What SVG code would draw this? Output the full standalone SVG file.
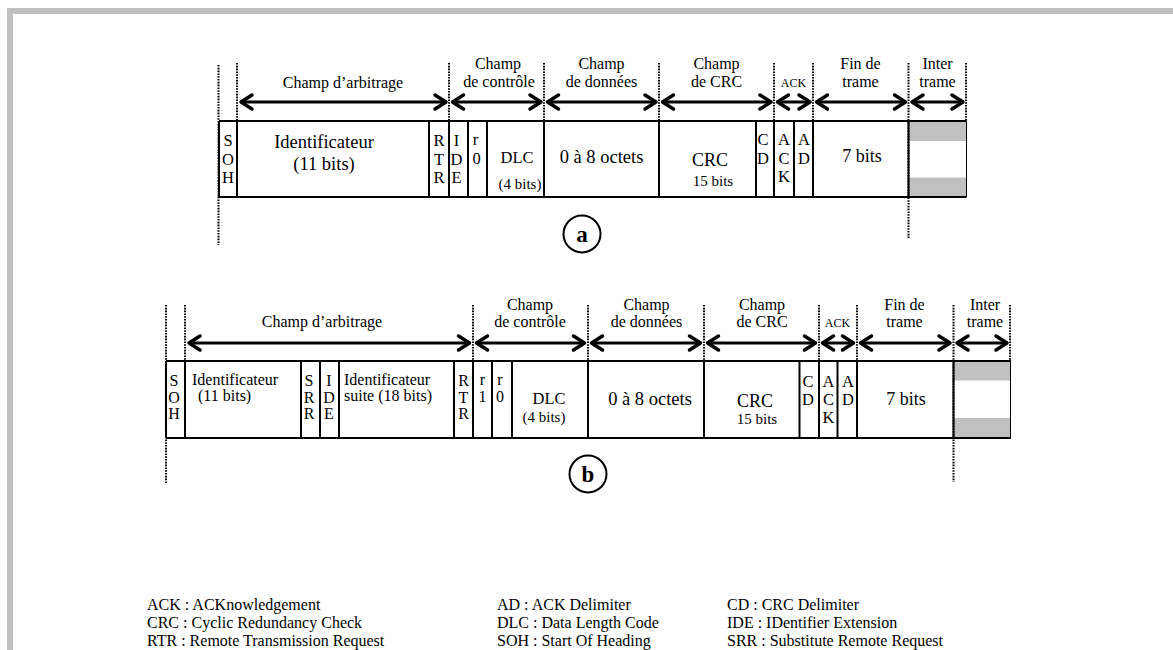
<svg xmlns="http://www.w3.org/2000/svg" width="1173" height="650" viewBox="0 0 1173 650">
<style>
text{font-family:"Liberation Serif","Times New Roman",serif;fill:#000}
.c{text-anchor:middle}
.lb{font-size:16px;text-anchor:middle}
.big{font-size:18.5px;text-anchor:middle}
.md{font-size:16px}
.sm{font-size:15px;text-anchor:middle}
.ack{font-size:12px;text-anchor:middle}
.lt{font-size:16.5px;text-anchor:middle}
.lg{font-size:16px}
.box{fill:none;stroke:#000;stroke-width:2}
.div{stroke:#000;stroke-width:2}
.thin{stroke:#000;stroke-width:1}
.dot{stroke:#000;stroke-width:2;stroke-dasharray:1.6 1.2;fill:none}
.arr{stroke:#000;stroke-width:3;fill:none;marker-start:url(#ah);marker-end:url(#ah)}
.gray{fill:#c0c0c0}
.circ{fill:none;stroke:#000;stroke-width:2}
.tag{font-size:23px;font-weight:bold;text-anchor:middle}
</style>
<defs>
<marker id="ah" viewBox="-14 -10 19 20" refX="0" refY="0" markerWidth="19" markerHeight="20" markerUnits="userSpaceOnUse" orient="auto-start-reverse">
<path d="M-11,-7 L0,0 L-11,7" fill="none" stroke="#000" stroke-width="3.5" stroke-linecap="round" stroke-linejoin="round"/>
</marker>
</defs>
<rect width="1173" height="650" fill="#fff"/>
<g id="border">
<rect x="7" y="8" width="1166" height="6" class="gray"/>
<rect x="7" y="8" width="6" height="642" class="gray"/>
</g>

<!-- ===== Frame a ===== -->
<g id="frame-a">
<rect x="909" y="121" width="57.5" height="20" class="gray"/>
<rect x="909" y="177.5" width="57.5" height="19.5" class="gray"/>
<line x1="219" y1="121" x2="966.5" y2="121" class="div"/>
<line x1="219" y1="197" x2="966.5" y2="197" class="div"/>
<line x1="219" y1="121" x2="219" y2="197" class="div"/>
<line x1="966.5" y1="121" x2="966.5" y2="197" class="thin"/>
<g id="a-dividers">
<line x1="237" y1="121" x2="237" y2="197" class="div"/>
<line x1="429" y1="121" x2="429" y2="197" class="div"/>
<line x1="449" y1="121" x2="449" y2="197" class="div"/>
<line x1="468" y1="121" x2="468" y2="197" class="div"/>
<line x1="487" y1="121" x2="487" y2="197" class="div"/>
<line x1="544" y1="121" x2="544" y2="197" class="div"/>
<line x1="659" y1="121" x2="659" y2="197" class="div"/>
<line x1="756" y1="121" x2="756" y2="197" class="div"/>
<line x1="774" y1="121" x2="774" y2="197" class="div"/>
<line x1="794" y1="121" x2="794" y2="197" class="div"/>
<line x1="813" y1="121" x2="813" y2="197" class="div"/>
<line x1="908.5" y1="121" x2="908.5" y2="197" class="div"/>
</g>
<g id="a-SOH"><text class="lt"><tspan x="228" y="146">S</tspan><tspan x="228" y="164.5">O</tspan><tspan x="228" y="183">H</tspan></text></g>
<g id="a-ident"><text class="big" x="324" y="148">Identificateur</text><text class="big" x="324" y="170">(11 bits)</text></g>
<g id="a-RTR"><text class="lt"><tspan x="439" y="146">R</tspan><tspan x="439" y="164.5">T</tspan><tspan x="439" y="183">R</tspan></text></g>
<g id="a-IDE"><text class="lt"><tspan x="456.5" y="146">I</tspan><tspan x="456.5" y="164.5">D</tspan><tspan x="456.5" y="183">E</tspan></text></g>
<g id="a-r0"><text class="lt"><tspan x="475.5" y="145">r</tspan><tspan x="476.5" y="164">0</tspan></text></g>
<g id="a-DLC"><text class="lt" x="517" y="163">DLC</text><text class="sm" x="520" y="189">(4 bits)</text></g>
<g id="a-data"><text class="big" x="601.5" y="163">0 à 8 octets</text></g>
<g id="a-CRC"><text class="big" x="710" y="166" style="font-size:18px">CRC</text><text class="sm" x="713" y="186">15 bits</text></g>
<g id="a-CD"><text class="lt"><tspan x="763" y="145">C</tspan><tspan x="763" y="163.5">D</tspan></text></g>
<g id="a-ACK"><text class="lt"><tspan x="784" y="145">A</tspan><tspan x="784" y="163.5">C</tspan><tspan x="784" y="182">K</tspan></text></g>
<g id="a-AD"><text class="lt"><tspan x="804" y="145">A</tspan><tspan x="804" y="163.5">D</tspan></text></g>
<g id="a-eof"><text class="big" x="862" y="162" style="font-size:18px">7 bits</text></g>
<g id="a-labels">
<text class="lb" x="343" y="88">Champ d’arbitrage</text>
<text class="lb" x="498" y="69">Champ</text><text class="lb" x="499" y="87">de contrôle</text>
<text class="lb" x="601.5" y="69">Champ</text><text class="lb" x="601.5" y="87">de données</text>
<text class="lb" x="716.5" y="69">Champ</text><text class="lb" x="716.5" y="87">de CRC</text>
<text class="ack" x="793.5" y="87">ACK</text>
<text class="lb" x="860.5" y="69">Fin de</text><text class="lb" x="860.5" y="87">trame</text>
<text class="lb" x="937.5" y="69">Inter</text><text class="lb" x="937.5" y="87">trame</text>
</g>
<g id="a-tag"><circle cx="582" cy="234" r="18.5" class="circ"/><text class="tag" x="582" y="241.5">a</text></g>
</g>

<!-- ===== Frame b ===== -->
<g id="frame-b">
<rect x="954" y="361" width="57" height="19.5" class="gray"/>
<rect x="954" y="418" width="57" height="20" class="gray"/>
<line x1="166" y1="361" x2="1011" y2="361" class="div"/>
<line x1="166" y1="438" x2="1011" y2="438" class="div"/>
<line x1="166" y1="361" x2="166" y2="438" class="div"/>
<line x1="1010.5" y1="361" x2="1010.5" y2="438" class="thin"/>
<g id="b-dividers">
<line x1="185" y1="361" x2="185" y2="438" class="div"/>
<line x1="301" y1="361" x2="301" y2="438" class="div"/>
<line x1="320" y1="361" x2="320" y2="438" class="div"/>
<line x1="339" y1="361" x2="339" y2="438" class="div"/>
<line x1="454" y1="361" x2="454" y2="438" class="div"/>
<line x1="473" y1="361" x2="473" y2="438" class="div"/>
<line x1="492" y1="361" x2="492" y2="438" class="div"/>
<line x1="512" y1="361" x2="512" y2="438" class="div"/>
<line x1="588" y1="361" x2="588" y2="438" class="div"/>
<line x1="704" y1="361" x2="704" y2="438" class="div"/>
<line x1="799.5" y1="361" x2="799.5" y2="438" class="div"/>
<line x1="819" y1="361" x2="819" y2="438" class="div"/>
<line x1="837.5" y1="361" x2="837.5" y2="438" class="div"/>
<line x1="857" y1="361" x2="857" y2="438" class="div"/>
<line x1="953.5" y1="361" x2="953.5" y2="438" class="div"/>
</g>
<g id="b-SOH"><text class="lt" style="font-size:16px"><tspan x="174" y="386">S</tspan><tspan x="174" y="402.5">O</tspan><tspan x="174" y="419">H</tspan></text></g>
<g id="b-ident"><text class="md" x="192" y="385">Identificateur</text><text class="md" x="198" y="401">(11 bits)</text></g>
<g id="b-SRR"><text class="lt" style="font-size:16px"><tspan x="309" y="386">S</tspan><tspan x="309" y="402.5">R</tspan><tspan x="309" y="419">R</tspan></text></g>
<g id="b-IDE"><text class="lt" style="font-size:16px"><tspan x="329" y="386">I</tspan><tspan x="329" y="402.5">D</tspan><tspan x="329" y="419">E</tspan></text></g>
<g id="b-ident2"><text class="md" x="344" y="385">Identificateur</text><text class="md" x="344" y="401">suite (18 bits)</text></g>
<g id="b-RTR"><text class="lt" style="font-size:16px"><tspan x="463.5" y="386">R</tspan><tspan x="463.5" y="402.5">T</tspan><tspan x="463.5" y="419">R</tspan></text></g>
<g id="b-r1"><text class="lt" style="font-size:16px"><tspan x="482.5" y="385">r</tspan><tspan x="482.5" y="402">1</tspan></text></g>
<g id="b-r0"><text class="lt" style="font-size:16px"><tspan x="500" y="385">r</tspan><tspan x="500" y="402">0</tspan></text></g>
<g id="b-DLC"><text class="lt" x="549" y="404">DLC</text><text class="sm" x="544" y="422">(4 bits)</text></g>
<g id="b-data"><text class="big" x="650" y="405">0 à 8 octets</text></g>
<g id="b-CRC"><text class="big" x="755" y="407" style="font-size:18px">CRC</text><text class="sm" x="757" y="424">15 bits</text></g>
<g id="b-CD"><text class="lt"><tspan x="808" y="387">C</tspan><tspan x="808" y="405">D</tspan></text></g>
<g id="b-ACK"><text class="lt"><tspan x="828.5" y="387">A</tspan><tspan x="828.5" y="405">C</tspan><tspan x="828.5" y="423">K</tspan></text></g>
<g id="b-AD"><text class="lt"><tspan x="848" y="387">A</tspan><tspan x="848" y="405">D</tspan></text></g>
<g id="b-eof"><text class="big" x="906" y="405" style="font-size:18px">7 bits</text></g>
<g id="b-labels">
<text class="lb" x="322" y="327">Champ d’arbitrage</text>
<text class="lb" x="530" y="310">Champ</text><text class="lb" x="530" y="327">de contrôle</text>
<text class="lb" x="646.5" y="310">Champ</text><text class="lb" x="646.5" y="327">de données</text>
<text class="lb" x="762" y="310">Champ</text><text class="lb" x="762" y="327">de CRC</text>
<text class="ack" x="837.5" y="327">ACK</text>
<text class="lb" x="904.5" y="310">Fin de</text><text class="lb" x="904.5" y="327">trame</text>
<text class="lb" x="985" y="310">Inter</text><text class="lb" x="985" y="327">trame</text>
</g>
<g id="b-tag"><circle cx="588" cy="474" r="18.5" class="circ"/><text class="tag" x="588" y="481.5">b</text></g>
</g>

<!-- ===== Connectors ===== -->
<g id="connectors">
<g id="dotted-a">
<line x1="218.5" y1="65" x2="218.5" y2="245" class="dot"/>
<line x1="237" y1="63" x2="237" y2="121" class="dot"/>
<line x1="449" y1="63" x2="449" y2="121" class="dot"/>
<line x1="544" y1="63" x2="544" y2="121" class="dot"/>
<line x1="659" y1="63" x2="659" y2="121" class="dot"/>
<line x1="774" y1="63" x2="774" y2="121" class="dot"/>
<line x1="813" y1="63" x2="813" y2="121" class="dot"/>
<line x1="908.5" y1="63" x2="908.5" y2="238" class="dot"/>
<line x1="966" y1="63" x2="966" y2="121" class="dot"/>
</g>
<g id="arrows-a">
<line x1="241" y1="102" x2="446" y2="102" class="arr"/>
<line x1="452.5" y1="102" x2="541" y2="102" class="arr"/>
<line x1="547.5" y1="102" x2="656" y2="102" class="arr"/>
<line x1="662.5" y1="102" x2="771" y2="102" class="arr"/>
<line x1="777.5" y1="102" x2="810" y2="102" class="arr"/>
<line x1="816.5" y1="102" x2="905.5" y2="102" class="arr"/>
<line x1="912" y1="102" x2="963" y2="102" class="arr"/>
</g>
<g id="dotted-b">
<line x1="166" y1="305" x2="166" y2="483" class="dot"/>
<line x1="185" y1="305" x2="185" y2="361" class="dot"/>
<line x1="473" y1="305" x2="473" y2="361" class="dot"/>
<line x1="588" y1="305" x2="588" y2="361" class="dot"/>
<line x1="704" y1="305" x2="704" y2="361" class="dot"/>
<line x1="819" y1="305" x2="819" y2="361" class="dot"/>
<line x1="857" y1="305" x2="857" y2="361" class="dot"/>
<line x1="953.5" y1="305" x2="953.5" y2="482" class="dot"/>
<line x1="1010" y1="305" x2="1010" y2="361" class="dot"/>
</g>
<g id="arrows-b">
<line x1="189" y1="343" x2="469.5" y2="343" class="arr"/>
<line x1="476.5" y1="343" x2="584.5" y2="343" class="arr"/>
<line x1="591.5" y1="343" x2="700.5" y2="343" class="arr"/>
<line x1="707.5" y1="343" x2="815.5" y2="343" class="arr"/>
<line x1="822.5" y1="343" x2="853.5" y2="343" class="arr"/>
<line x1="860.5" y1="343" x2="950" y2="343" class="arr"/>
<line x1="957" y1="343" x2="1007" y2="343" class="arr"/>
</g>
</g>

<!-- ===== Legend ===== -->
<g id="legend">
<text class="lg" x="147" y="610">ACK : ACKnowledgement</text>
<text class="lg" x="147" y="628">CRC : Cyclic Redundancy Check</text>
<text class="lg" x="147" y="646">RTR : Remote Transmission Request</text>
<text class="lg" x="497" y="610">AD : ACK Delimiter</text>
<text class="lg" x="497" y="628">DLC : Data Length Code</text>
<text class="lg" x="497" y="646">SOH : Start Of Heading</text>
<text class="lg" x="727" y="610">CD :  CRC Delimiter</text>
<text class="lg" x="727" y="628">IDE : IDentifier Extension</text>
<text class="lg" x="727" y="646">SRR : Substitute Remote Request</text>
</g>
</svg>
